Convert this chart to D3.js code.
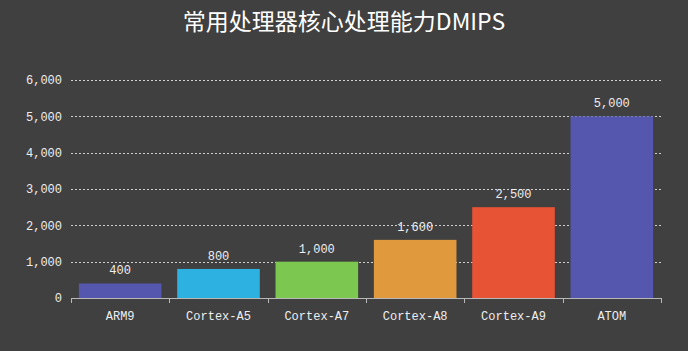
<!DOCTYPE html>
<html>
<head>
<meta charset="utf-8">
<script src="https://cdn.jsdelivr.net/npm/d3@7"></script>
<style>
  body { margin: 0; background: #404040; }
  svg { display: block; }
</style>
</head>
<body>
<div id="chart"></div>
<script>
// data
var categories = ["ARM9", "Cortex-A5", "Cortex-A7", "Cortex-A8", "Cortex-A9", "ATOM"];
var values = [400, 800, 1000, 1600, 2500, 5000];
var colors = ["#5557ae", "#2db1e1", "#7bc74f", "#e0993d", "#e65335", "#5557ae"];
var yTicks = [0, 1000, 2000, 3000, 4000, 5000, 6000];
var title = "常用处理器核心处理能力DMIPS";

var data = categories.map(function(c, i) { return {name: c, value: values[i], color: colors[i]}; });

var W = 688, H = 351;
var margin = {top: 80, right: 27, bottom: 53, left: 71},
    width = W - margin.left - margin.right,
    height = H - margin.top - margin.bottom;

var svg = d3.select("#chart").append("svg")
    .attr("width", W)
    .attr("height", H)
    .style("background", "#404040");

svg.append("text")
    .attr("x", W / 2)
    .attr("y", 30)
    .attr("text-anchor", "middle")
    .attr("fill", "#ffffff")
    .style("font-family", "'Noto Sans CJK SC', sans-serif")
    .style("font-size", "23px")
    .text(title);

var g = svg.append("g")
    .attr("transform", "translate(" + margin.left + "," + margin.top + ")");

var x = d3.scaleBand()
    .range([0, width])
    .domain(categories)
    .padding(0);

var y = d3.scaleLinear()
    .domain([0, 6000])
    .range([height, 0]);

var fmt = d3.format(",");
var mono = "'Liberation Mono', 'DejaVu Sans Mono', monospace";

// grid lines
g.selectAll(".grid")
  .data(yTicks.filter(function(d) { return d > 0; }))
  .enter()
  .append("line")
    .attr("x1", 0)
    .attr("x2", width)
    .attr("y1", function(d) { return Math.round(y(d)) + 0.5; })
    .attr("y2", function(d) { return Math.round(y(d)) + 0.5; })
    .attr("stroke", "#cfcfcf")
    .attr("stroke-dasharray", "2,2");

// y labels
g.selectAll(".ylab")
  .data(yTicks)
  .enter()
  .append("text")
    .attr("x", -9)
    .attr("y", function(d) { return y(d); })
    .attr("dy", "0.35em")
    .attr("text-anchor", "end")
    .attr("fill", "#eeeeee")
    .style("font-family", mono)
    .style("font-size", "12px")
    .text(function(d) { return fmt(d); });

// bars
g.selectAll(".bar")
  .data(data)
  .enter()
  .append("rect")
    .attr("x", function(d) { return x(d.name) + x.bandwidth() * 0.08; })
    .attr("y", function(d) { return y(d.value); })
    .attr("width", x.bandwidth() * 0.84)
    .attr("height", function(d) { return height - y(d.value); })
    .attr("fill", function(d) { return d.color; });

// value labels
g.selectAll(".val")
  .data(data)
  .enter()
  .append("text")
    .attr("x", function(d) { return x(d.name) + x.bandwidth() / 2; })
    .attr("y", function(d) { return y(d.value) - 9; })
    .attr("text-anchor", "middle")
    .attr("fill", "#eeeeee")
    .style("font-family", mono)
    .style("font-size", "12px")
    .text(function(d) { return fmt(d.value); });

// x axis
var xAxis = g.append("g")
    .attr("transform", "translate(0," + height + ")");
xAxis.append("line")
    .attr("x1", 0).attr("x2", width)
    .attr("y1", 0.5).attr("y2", 0.5)
    .attr("stroke", "#b8b8b8");
var edges = categories.map(function(c) { return x(c); }).concat([width]);
xAxis.selectAll(".tick")
  .data(edges)
  .enter()
  .append("line")
    .attr("x1", function(d) { return Math.round(d) + 0.5; })
    .attr("x2", function(d) { return Math.round(d) + 0.5; })
    .attr("y1", 0).attr("y2", 5)
    .attr("stroke", "#b8b8b8");
xAxis.selectAll(".xlab")
  .data(categories)
  .enter()
  .append("text")
    .attr("x", function(d) { return x(d) + x.bandwidth() / 2; })
    .attr("y", 22)
    .attr("text-anchor", "middle")
    .attr("fill", "#eeeeee")
    .style("font-family", mono)
    .style("font-size", "12px")
    .text(function(d) { return d; });
</script>
</body>
</html>
